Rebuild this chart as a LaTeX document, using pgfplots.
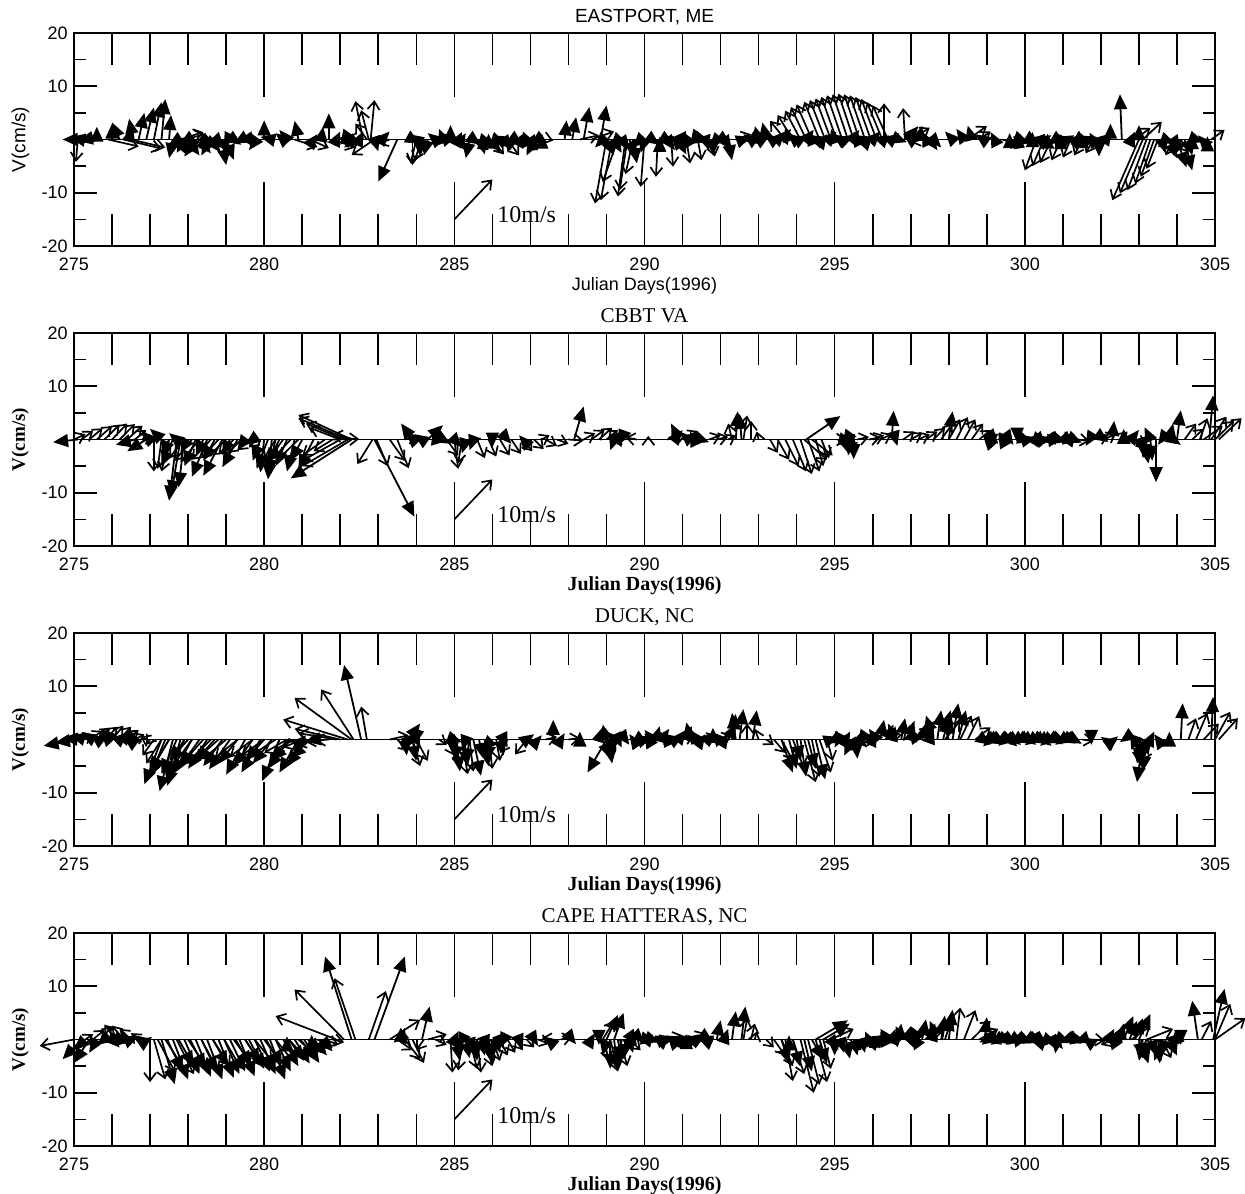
\documentclass[border=0pt]{standalone}
\usepackage{fontspec}
\setmainfont{Liberation Sans}
\newfontfamily\serifrm{Liberation Serif}
\usepackage{pgfplots}
\usepackage{pgfplotstable}
\pgfplotsset{compat=1.18}
\usetikzlibrary{arrows.meta}

\pgfplotstableread[row sep=\\]{
t u v\\
275.1 -0.4 0.0\\ 275.2 -0.3 0.4\\ 275.3 -0.2 -0.3\\ 275.6 0.0 2.4\\ 276.0 0.0 3.0\\ 276.2 -0.2 3.2\\
276.45 0.1 2.4\\ 276.55 -0.1 3.9\\ 276.7 0.15 5.0\\ 276.9 0.2 6.0\\ 277.1 0.2 7.0\\ 277.3 0.1 7.6\\
277.5 0.05 4.6\\ 277.6 -0.1 -3.5\\ 277.75 0.2 -2.8\\ 277.9 -0.2 -2.5\\ 278.0 0.3 -3.0\\ 278.15 -0.2 -2.2\\
278.3 0.3 -2.6\\ 278.45 -0.15 -1.8\\ 278.6 0.25 -2.4\\ 278.75 0.2 -1.5\\ 278.9 0.1 -4.8\\ 279.05 -0.1 -1.5\\
279.2 0.2 -1.0\\ 279.4 -0.2 -0.8\\ 279.6 0.15 -1.5\\ 279.8 -0.2 -2.0\\ 280.0 0.0 3.6\\ 280.2 -0.3 0.5\\
280.5 -0.2 1.2\\ 280.6 -0.2 1.8\\ 280.9 -0.1 3.5\\ 281.3 0.1 1.0\\ 281.5 0.05 2.4\\ 281.7 0.0 4.9\\
281.9 0.1 1.5\\ 282.1 -0.1 -1.0\\ 282.2 0.2 1.2\\ 282.4 -0.3 -1.5\\ 282.5 0.1 1.5\\ 282.9 0.1 -2.2\\
283.1 0.2 1.5\\ 283.5 -0.5 -7.9\\ 284.1 0.0 -3.2\\ 284.3 -0.1 -3.0\\ 284.5 -0.2 1.2\\ 284.7 -0.1 2.0\\
284.9 0.0 2.7\\ 285.1 0.1 1.4\\ 285.2 0.1 1.2\\ 285.4 -0.1 -3.5\\ 285.7 0.1 -2.8\\ 285.9 0.0 1.1\\
286.1 -0.2 -1.5\\ 286.3 0.2 -2.0\\ 286.5 -0.1 -2.5\\ 286.75 0.1 1.3\\ 286.9 -0.1 1.5\\ 287.1 -0.2 -3.0\\
287.3 0.0 1.1\\ 287.9 0.05 3.6\\ 288.1 0.1 4.2\\ 288.4 0.15 6.1\\ 288.85 0.15 6.4\\ 288.9 -0.2 -1.5\\
289.2 0.2 -2.5\\ 289.4 0.2 -2.0\\ 289.7 0.1 -4.5\\ 290.0 -0.1 -2.5\\ 290.4 0.0 0.5\\ 290.6 0.2 -2.0\\
290.8 -0.1 0.8\\ 291.0 0.1 -1.5\\ 291.3 -0.1 -1.0\\ 291.6 0.1 -2.0\\ 291.8 0.0 -3.0\\ 292.0 -0.2 -0.8\\
292.2 0.1 -3.9\\ 292.8 -0.2 1.0\\ 292.9 0.2 -1.0\\ 293.0 -0.1 2.5\\ 293.2 -0.1 3.2\\ 293.5 0.2 1.5\\
293.8 -0.1 2.4\\ 294.1 0.2 0.8\\ 294.4 -0.1 1.7\\ 294.7 0.1 1.0\\ 295.0 -0.1 2.0\\ 295.3 0.2 0.6\\
295.6 -0.1 1.5\\ 295.9 0.1 0.8\\ 296.5 0.2 1.2\\ 296.9 0.3 2.5\\ 297.2 0.1 2.6\\ 297.4 -0.1 1.5\\
297.6 0.2 -1.5\\ 298.1 -0.2 1.5\\ 298.4 -0.2 2.0\\ 298.6 -0.1 2.6\\ 298.9 -0.2 1.0\\ 299.2 -0.1 1.4\\
299.6 0.0 1.2\\ 299.8 0.0 1.4\\ 300.2 0.0 1.4\\ 300.4 0.1 -2.0\\ 300.6 0.0 1.1\\ 300.9 -0.1 -1.8\\
300.95 0.0 1.0\\ 301.3 0.1 -2.2\\ 301.5 0.0 1.2\\ 301.8 -0.1 1.3\\ 301.95 0.0 -3.2\\ 302.15 -0.3 0.3\\
302.25 0.0 3.0\\ 302.55 -0.05 8.5\\ 302.8 0.1 1.5\\ 303.0 0.0 2.7\\ 303.6 0.1 -2.6\\ 303.8 0.2 -3.5\\
304.0 0.25 -5.2\\ 304.2 0.2 -5.8\\ 304.3 0.1 -3.0\\ 304.4 0.0 1.0\\ 304.65 -0.1 0.8\\ 304.8 0.0 0.6\\
277.7 0.25 -1.2\\ 277.85 -0.3 -1.8\\ 278.05 0.2 -1.0\\ 278.2 -0.3 -3.2\\ 278.4 0.3 -1.2\\ 278.55 -0.2 -3.0\\
278.7 -0.3 -2.0\\ 278.85 0.3 -2.5\\ 279.0 0.2 -3.8\\ 283.9 0.2 -0.8\\ 284.0 -0.2 1.0\\ 284.6 0.2 0.5\\
284.8 -0.2 1.5\\ 285.5 0.2 -1.0\\ 285.8 -0.2 -1.8\\ 286.0 0.2 -2.5\\ 286.2 -0.2 0.8\\ 286.6 0.2 -1.0\\
287.0 0.2 -2.0\\ 287.2 -0.2 -1.0\\ 289.0 0.2 -3.0\\ 289.3 -0.2 -1.5\\ 289.6 0.2 -3.0\\ 289.9 -0.2 -1.5\\
290.2 0.2 -1.0\\ 290.5 -0.2 -1.0\\ 290.9 0.2 -2.8\\ 291.2 -0.2 -2.0\\ 291.5 0.2 -0.5\\ 291.9 -0.2 -1.5\\
292.1 0.2 -2.0\\ 292.6 0.2 0.5\\ 293.1 0.2 0.8\\ 293.35 -0.2 1.0\\ 293.65 0.2 2.0\\ 293.95 -0.2 1.2\\
294.25 0.2 1.8\\ 294.55 -0.2 0.8\\ 294.85 0.2 1.5\\ 295.15 -0.2 1.0\\ 295.45 0.2 1.8\\ 295.75 -0.2 0.8\\
296.0 0.2 1.5\\ 296.2 -0.2 0.5\\ 296.7 0.2 -0.5\\ 297.0 -0.2 1.0\\ 297.5 0.2 -2.0\\ 299.9 0.2 -0.5\\
300.1 -0.2 -1.0\\ 300.5 0.2 0.8\\ 300.8 -0.2 -1.0\\ 301.1 0.2 0.8\\ 301.4 -0.2 -1.0\\ 301.7 0.2 0.5\\
303.7 -0.2 -1.5\\ 303.9 0.2 -2.0\\ 304.1 -0.2 -3.0\\ 304.5 0.2 -0.5\\
}\EastF
\pgfplotstableread[row sep=\\]{
t u v\\
275.1 -0.05 -4.2\\ 275.45 0.1 -0.5\\ 275.9 0.8 -1.3\\ 276.3 1.0 -1.7\\ 276.5 0.9 -1.5\\ 277.8 0.6 1.4\\
277.9 0.55 1.0\\ 280.8 0.6 -1.4\\ 281.2 0.5 -1.6\\ 281.8 0.6 -1.5\\ 282.6 -0.2 7.2\\ 282.7 -0.3 3.0\\
282.75 -0.2 5.5\\ 282.8 0.1 7.4\\ 282.9 -0.6 -2.9\\ 283.3 -0.3 -0.8\\ 283.9 0.0 -4.8\\ 284.0 -0.15 -4.5\\
284.15 -0.2 -4.0\\ 285.6 0.3 -2.0\\ 286.0 0.3 -2.8\\ 286.4 0.3 -3.0\\ 286.8 0.4 -2.0\\ 287.5 0.1 -0.2\\
288.3 0.5 0.8\\ 288.6 0.6 1.5\\ 289.0 -0.3 -12.0\\ 289.15 -0.3 -11.4\\ 289.3 -0.4 -8.0\\ 289.5 -0.2 -10.7\\
289.55 -0.2 -9.5\\ 289.7 -0.2 -6.5\\ 290.0 -0.1 -8.9\\ 290.35 -0.05 -7.0\\ 290.7 0.05 -5.1\\ 291.1 0.1 -4.5\\
291.4 0.1 -3.9\\ 291.75 0.1 -3.2\\ 292.4 0.4 1.0\\
293.7 -0.4 3.5\\ 293.9 -0.4 4.6\\ 294.1 -0.4 5.4\\ 294.25 -0.4 6.1\\ 294.4 -0.4 6.6\\ 294.6 -0.4 7.1\\
294.75 -0.4 7.4\\ 294.9 -0.4 7.7\\ 295.05 -0.4 8.0\\ 295.2 -0.4 8.3\\ 295.35 -0.4 8.5\\ 295.5 -0.4 8.6\\
295.65 -0.4 8.5\\ 295.8 -0.4 8.3\\ 295.95 -0.4 8.0\\ 296.1 -0.4 7.6\\ 296.25 -0.4 7.0\\ 296.4 -0.4 6.4\\
296.3 0.0 6.8\\ 296.85 -0.05 5.9\\ 297.0 0.5 2.2\\ 297.3 -0.3 -0.5\\ 298.5 0.5 2.5\\ 298.8 0.3 1.5\\
299.4 0.5 -1.0\\ 299.6 0.4 -1.5\\ 300.3 -0.3 -5.8\\ 300.5 -0.3 -5.0\\ 300.7 -0.3 -4.4\\ 300.95 -0.25 -3.9\\
301.2 -0.2 -3.4\\ 301.5 -0.2 -3.0\\ 301.8 -0.2 -2.6\\ 302.9 0.4 2.2\\ 303.1 0.5 3.3\\ 303.0 -0.7 -11.4\\
303.1 -0.6 -10.1\\ 303.2 -0.5 -9.5\\ 303.3 -0.4 -8.3\\ 303.4 -0.35 -7.0\\ 303.5 -0.3 -5.5\\ 303.7 0.3 -2.0\\
303.9 -0.2 -3.0\\ 304.1 0.2 -2.5\\ 304.9 0.35 1.8\\
}\EastO

\pgfplotstableread[row sep=\\]{
t u v\\
275.1 -0.65 -0.5\\ 276.9 -0.5 -2.2\\ 277.0 -0.2 1.5\\ 277.7 -0.2 1.2\\ 277.7 -0.2 -11.5\\ 277.8 -0.25 -10.5\\
277.9 -0.15 -9.0\\ 278.2 -0.3 -5.0\\ 278.5 -0.4 -7.0\\ 278.9 -0.5 -6.8\\ 279.3 -0.4 -5.2\\ 279.7 -0.2 -1.0\\
280.0 -0.1 -6.2\\ 280.1 -0.3 -5.5\\ 280.2 -0.1 -7.5\\ 280.4 -0.3 -4.5\\ 281.3 -0.4 -5.6\\ 282.3 -1.6 -7.3\\
282.9 1.05 -14.5\\ 283.9 -0.3 3.0\\ 284.0 0.2 0.5\\ 284.15 -0.2 1.0\\ 284.3 0.4 2.7\\ 284.5 0.3 -0.3\\
284.7 0.2 -0.8\\ 285.0 0.2 -1.5\\ 285.3 -0.1 -2.6\\ 285.5 -0.1 -2.0\\ 286.0 0.0 -1.5\\ 286.4 0.1 -0.8\\
286.8 -0.1 0.8\\ 288.15 0.25 6.2\\ 289.2 -0.1 -2.0\\ 289.3 0.1 -1.5\\ 289.4 -0.05 -1.0\\ 290.8 0.2 1.8\\
290.9 -0.2 3.0\\ 291.1 0.3 1.0\\ 291.3 -0.1 1.5\\ 291.5 0.2 -0.5\\ 292.4 0.05 5.3\\ 292.55 -0.05 4.8\\
294.25 0.9 4.4\\ 295.2 0.3 -0.5\\ 295.3 -0.1 -1.0\\ 295.4 0.1 -2.0\\ 295.5 0.0 -3.7\\ 296.5 0.05 5.4\\
296.6 0.05 -1.2\\ 298.0 0.1 5.3\\ 299.0 -0.1 0.8\\ 299.2 0.1 -0.8\\ 299.4 -0.1 1.2\\ 299.6 0.1 -1.0\\
299.8 0.0 -0.6\\ 300.0 0.2 -0.5\\ 300.2 -0.2 0.3\\ 300.4 0.2 -0.4\\ 300.6 -0.2 -0.3\\ 300.8 0.2 0.2\\
301.0 -0.2 -0.5\\ 301.2 0.2 -0.3\\ 301.7 -0.1 -1.2\\ 302.1 0.1 -0.5\\ 302.3 0.05 3.5\\ 302.6 0.0 2.0\\
302.8 0.2 1.8\\ 303.0 0.1 -2.5\\ 303.2 -0.1 -3.5\\ 303.3 0.05 -4.0\\ 303.3 -0.15 2.3\\ 303.45 0.0 -8.0\\
303.6 -0.1 -1.0\\ 303.8 0.1 3.0\\ 303.9 0.2 -1.0\\ 304.0 0.1 5.5\\ 304.85 0.1 8.3\\
277.5 -0.2 -3.0\\ 277.6 -0.3 -5.0\\ 278.0 -0.2 -2.5\\ 278.4 -0.2 -3.0\\ 278.7 -0.3 -4.0\\ 279.1 -0.2 -3.0\\
279.5 -0.2 -2.0\\ 279.9 -0.2 -4.0\\ 280.3 -0.2 -6.5\\ 280.6 -0.3 -5.0\\ 280.8 -0.2 -6.0\\ 281.0 -0.3 -4.0\\
276.6 -0.5 -1.0\\ 277.3 -0.3 2.0\\ 300.1 0.2 0.3\\ 300.3 -0.2 -0.5\\ 300.5 0.2 0.4\\ 300.7 -0.2 -0.6\\
300.9 0.2 -0.4\\ 301.1 -0.2 0.3\\ 301.3 0.2 -0.6\\ 295.25 0.1 -2.5\\ 295.45 -0.1 -3.0\\ 303.15 0.1 -4.5\\
}\CbbtF
\pgfplotstableread[row sep=\\]{
t u v\\
275.0 0.3 1.0\\ 275.2 0.3 1.6\\ 275.4 0.35 2.1\\ 275.6 0.4 2.5\\ 275.8 0.4 2.8\\ 276.0 0.4 3.0\\
276.2 0.4 2.9\\ 276.4 0.4 2.6\\ 276.6 0.3 1.8\\ 276.8 0.2 1.0\\ 277.1 0.0 -6.0\\ 277.3 -0.1 -5.5\\
277.5 -0.2 -6.0\\ 277.9 -0.4 -3.5\\ 278.1 -0.45 -4.0\\ 278.3 -0.5 -4.2\\ 278.6 -0.5 -3.8\\ 278.8 -0.45 -3.5\\
279.0 -0.45 -3.0\\ 279.2 -0.4 -2.8\\ 279.4 -0.35 -2.5\\ 279.6 -0.3 -2.0\\ 279.8 -0.2 -1.5\\ 280.3 -0.3 -3.5\\
280.5 -0.4 -4.0\\ 280.7 -0.4 -3.0\\ 280.9 -0.5 -3.5\\ 281.6 -0.6 -3.0\\ 281.8 -0.5 -2.2\\ 282.0 -1.0 -4.0\\
282.2 -1.2 -5.0\\ 282.3 -1.4 4.6\\ 282.2 -1.3 4.0\\ 282.1 -1.0 3.0\\ 282.0 -0.8 2.2\\ 282.4 -0.6 1.0\\
281.8 0.7 0.1\\ 282.85 -0.4 -4.6\\ 282.95 0.3 -5.0\\ 283.3 0.4 -4.0\\ 283.5 0.3 -5.4\\ 283.7 0.3 0.8\\
284.8 0.3 -3.0\\ 285.0 0.1 -5.5\\ 285.2 -0.1 -4.5\\ 285.6 0.2 -3.5\\ 285.9 0.2 -3.2\\ 286.2 0.25 -3.0\\
286.5 0.25 -2.7\\ 286.8 0.25 -2.2\\ 287.1 0.25 -1.8\\ 287.3 0.2 0.8\\ 287.4 0.3 -1.2\\ 287.7 0.3 -0.8\\
288.0 0.4 -0.2\\ 288.4 0.3 1.2\\ 288.6 0.35 1.8\\ 288.8 0.35 2.2\\ 289.0 0.3 1.8\\ 289.2 0.2 1.0\\
289.5 -0.3 0.5\\ 289.8 -0.3 0.4\\ 290.1 0.0 0.7\\ 290.6 0.5 1.0\\ 291.0 0.4 1.6\\ 291.7 0.3 0.8\\
291.9 0.3 0.5\\ 292.2 0.2 0.8\\ 292.3 -0.1 3.0\\ 292.6 0.1 4.5\\ 292.8 0.0 3.5\\ 293.0 -0.05 1.5\\
293.3 0.2 -2.5\\ 293.5 0.3 -3.8\\ 293.7 0.35 -5.0\\ 293.9 0.35 -6.0\\ 294.1 0.3 -6.5\\ 294.2 0.6 -3.8\\
294.3 0.3 -6.0\\ 294.4 0.55 -3.0\\ 294.5 0.2 -5.0\\ 294.65 0.2 -3.5\\ 294.8 0.5 0.0\\ 295.6 0.3 0.5\\
295.9 0.3 0.4\\ 296.0 0.3 0.8\\ 296.2 0.3 1.0\\ 296.8 0.3 1.5\\ 297.0 0.3 1.2\\ 297.2 0.3 1.0\\
297.4 0.3 1.5\\ 297.6 0.3 2.2\\ 297.8 0.3 3.0\\ 298.0 0.3 3.8\\ 298.2 0.3 4.2\\ 298.4 0.3 3.8\\
298.6 0.3 3.0\\ 298.8 0.3 1.8\\ 299.0 0.3 1.0\\ 299.3 0.3 0.5\\ 301.4 0.3 -0.3\\ 301.9 0.3 0.8\\
302.1 0.3 1.2\\ 302.5 0.2 1.5\\ 302.9 0.3 -1.0\\ 304.2 0.3 3.0\\ 304.4 0.3 2.0\\ 304.6 0.2 4.0\\
304.7 0.5 2.5\\ 304.9 0.4 4.3\\ 305.0 0.5 3.5\\ 305.1 0.6 4.0\\
}\CbbtO

\pgfplotstableread[row sep=\\]{
t u v\\
275.05 -0.85 -1.2\\ 275.1 -0.6 -0.6\\ 275.2 -0.5 0.3\\ 275.9 -0.2 1.5\\ 276.2 0.2 1.3\\ 276.4 -0.1 0.5\\
276.6 0.2 -0.5\\ 277.3 -0.45 -8.4\\ 277.6 -0.35 -9.7\\ 277.7 -0.4 -6.5\\ 277.8 -0.35 -8.7\\ 278.0 -0.5 -4.0\\
278.3 -0.5 -5.0\\ 279.1 -0.55 -5.6\\ 279.5 -0.5 -6.6\\ 279.9 -0.5 -6.2\\ 280.2 -0.5 -4.5\\ 280.4 -0.45 -7.8\\
280.9 -0.5 -6.2\\ 281.0 0.1 0.8\\ 281.2 -0.5 -3.5\\ 281.4 -0.3 -0.4\\ 282.55 -0.45 14.0\\ 283.7 0.05 -3.0\\
283.8 0.3 3.0\\ 284.0 0.1 -1.5\\ 285.0 0.2 -0.5\\ 285.05 0.1 -6.0\\ 285.3 -0.1 -2.0\\ 285.5 0.2 -6.8\\
285.8 0.1 -5.0\\ 286.0 -0.3 -2.0\\ 286.2 0.1 -3.0\\ 286.9 0.2 1.0\\ 287.2 0.1 0.8\\ 287.6 0.0 3.7\\
287.8 0.1 1.2\\ 288.3 0.0 1.5\\ 288.8 0.1 2.3\\ 289.0 -0.1 2.8\\ 289.0 -0.5 -6.2\\ 289.1 0.15 -2.5\\
289.2 -0.2 1.5\\ 289.3 0.1 -1.5\\ 289.5 0.1 -1.0\\ 289.7 -0.1 1.0\\ 289.9 0.2 -0.8\\ 290.1 -0.1 1.2\\
290.3 0.1 2.5\\ 290.6 -0.1 1.5\\ 290.9 0.2 1.8\\ 291.2 -0.1 3.2\\ 291.5 0.1 1.0\\ 291.8 0.0 2.2\\
292.1 0.1 1.2\\ 292.3 0.1 4.8\\ 292.5 0.1 5.7\\ 292.85 0.1 5.5\\ 293.6 0.3 -6.2\\ 294.0 0.1 -4.0\\
294.9 0.2 0.5\\ 295.1 -0.1 -1.5\\ 295.3 0.1 1.5\\ 295.4 0.2 -2.5\\ 295.55 0.05 -3.6\\ 295.7 -0.1 -1.0\\
296.0 0.1 1.5\\ 296.2 0.1 3.7\\ 296.5 0.1 2.5\\ 296.75 0.1 4.0\\ 297.0 0.1 2.5\\ 297.3 0.1 3.1\\
297.5 0.1 2.0\\ 297.7 0.1 5.5\\ 297.95 0.1 4.0\\ 298.1 0.15 6.8\\ 298.9 0.2 -1.0\\ 299.1 -0.2 -1.3\\
299.3 0.2 -0.8\\ 299.5 -0.2 -1.2\\ 299.7 0.2 -1.0\\ 299.9 -0.2 -0.6\\ 300.1 0.2 -1.0\\ 300.3 -0.2 -0.5\\
300.5 0.2 -1.2\\ 300.7 -0.2 -0.8\\ 300.9 0.2 -0.6\\ 301.1 -0.2 -0.5\\ 301.3 0.2 -0.8\\ 301.75 0.0 -1.0\\
302.1 -0.1 0.5\\ 302.35 0.1 0.6\\ 302.6 -0.1 -0.5\\ 302.9 -0.1 -2.0\\ 303.0 0.1 -3.5\\ 303.1 -0.15 -8.0\\
303.2 -0.1 -6.0\\ 303.3 0.1 1.5\\ 303.5 -0.1 1.0\\ 303.8 0.0 1.5\\ 304.1 0.05 6.8\\ 304.9 0.05 8.0\\
277.4 -0.4 -7.0\\ 277.5 -0.5 -6.0\\ 277.9 -0.45 -7.5\\ 278.1 -0.5 -6.5\\ 278.5 -0.5 -5.5\\ 278.7 -0.5 -4.0\\
278.9 -0.5 -5.0\\ 279.3 -0.5 -4.5\\ 279.7 -0.5 -5.0\\ 280.0 -0.5 -4.0\\ 280.6 -0.5 -5.5\\ 280.7 -0.5 -4.0\\
281.1 -0.5 -5.0\\ 275.3 -0.4 0.8\\ 275.5 -0.3 1.2\\ 275.7 0.2 0.8\\ 276.0 -0.3 2.0\\ 276.3 0.2 1.8\\
285.1 -0.1 -4.0\\ 285.25 0.1 -5.0\\ 285.4 -0.1 -4.5\\ 285.65 0.1 -3.5\\ 285.95 -0.1 -4.0\\ 286.3 0.1 -1.5\\
284.9 0.2 -2.0\\ 283.8 -0.2 -2.0\\ 283.9 0.1 -4.0\\ 288.9 0.2 -3.5\\ 289.05 0.1 -4.5\\ 289.15 -0.1 -3.0\\
299.0 -0.2 -0.5\\ 299.2 0.2 -1.0\\ 299.4 -0.2 -0.8\\ 299.6 0.2 -1.3\\ 299.8 -0.2 -1.0\\ 300.0 0.2 -0.8\\
300.2 -0.2 -1.1\\ 300.4 0.2 -0.7\\ 300.6 -0.2 -1.2\\ 300.8 0.2 -0.9\\ 301.0 -0.2 -1.0\\ 301.2 0.2 -0.6\\
302.95 0.1 -5.0\\ 303.05 -0.1 -4.5\\ 303.15 0.1 -3.0\\ 296.1 -0.2 2.0\\ 296.35 0.2 2.8\\ 296.6 -0.2 3.0\\
296.9 0.2 3.5\\ 297.15 -0.2 2.0\\ 297.4 0.2 3.5\\ 297.6 -0.2 4.5\\ 297.85 0.2 5.5\\ 298.0 -0.2 4.5\\
298.25 0.2 5.5\\ 290.0 0.2 0.5\\ 290.2 -0.2 1.8\\ 290.45 0.2 2.0\\ 290.75 -0.2 1.0\\ 291.05 0.2 2.5\\
291.35 -0.2 2.0\\ 291.65 0.2 1.5\\ 291.95 -0.2 1.5\\ 292.2 0.2 3.0\\ 292.4 -0.1 5.0\\ 293.8 0.2 -5.5\\
294.1 0.15 -7.0\\ 294.3 0.2 -5.5\\ 294.5 0.25 -7.5\\ 295.0 -0.2 -0.8\\ 295.2 0.2 -2.0\\ 295.45 -0.2 -3.0\\
295.65 0.2 -1.5\\
}\DuckF
\pgfplotstableread[row sep=\\]{
t u v\\
275.2 0.3 1.0\\ 275.4 0.35 1.6\\ 275.6 0.35 2.2\\ 275.8 0.35 2.4\\ 276.0 0.3 2.6\\ 276.2 0.3 2.4\\
276.4 0.3 1.8\\ 276.6 0.25 1.0\\ 276.9 -0.15 0.5\\ 277.0 -0.1 -1.0\\ 277.1 -0.3 -3.0\\ 277.3 -0.4 -4.5\\
277.5 -0.45 -5.5\\ 277.9 -0.5 -6.0\\ 278.1 -0.55 -5.5\\ 278.4 -0.6 -4.8\\ 278.6 -0.6 -4.2\\ 278.8 -0.6 -3.8\\
279.0 -0.6 -3.6\\ 279.3 -0.6 -3.5\\ 279.7 -0.6 -3.2\\ 280.0 -0.6 -3.0\\ 280.3 -0.6 -2.8\\ 280.6 -0.6 -2.5\\
280.8 -0.55 -2.0\\ 281.0 -0.5 -1.5\\ 281.3 -0.45 -1.0\\ 281.5 -0.4 -0.5\\ 281.7 -0.35 -0.2\\ 281.9 -1.0 1.2\\
282.0 -1.2 2.0\\ 282.2 -1.7 3.75\\ 282.3 -1.5 7.8\\ 282.35 -0.85 9.4\\ 282.7 -0.15 6.2\\ 283.3 0.5 0.8\\
283.5 0.3 -2.0\\ 283.6 0.6 1.5\\ 283.9 0.2 -5.0\\ 284.0 0.3 -4.0\\ 284.6 0.2 -1.0\\ 284.8 0.2 -3.0\\
285.0 0.15 -5.0\\ 285.2 0.15 -6.5\\ 285.4 0.1 -6.0\\ 285.9 0.1 -5.5\\ 286.1 0.1 -4.0\\ 286.4 -0.2 -2.5\\
286.9 -0.3 -2.8\\ 287.4 0.3 0.5\\ 288.0 0.3 0.3\\ 289.2 -0.2 -3.0\\ 290.4 0.3 0.6\\ 291.0 0.3 0.8\\
291.6 0.3 0.7\\ 292.0 0.3 1.0\\ 292.7 0.0 3.0\\ 293.0 -0.1 2.0\\ 293.2 0.2 -1.0\\ 293.4 0.3 -2.5\\
293.6 0.3 -4.0\\ 293.9 0.3 -5.5\\ 294.2 0.3 -8.0\\ 294.4 0.2 -7.0\\ 294.6 0.3 -6.2\\ 294.8 0.15 -4.0\\
295.2 0.4 -2.0\\ 295.8 0.3 -0.5\\ 296.6 0.3 1.8\\ 297.2 0.3 2.5\\ 297.9 0.4 3.5\\ 298.3 0.3 4.5\\
298.5 0.3 4.4\\ 298.7 0.4 2.3\\ 301.5 0.3 -0.3\\ 303.3 -0.2 -4.0\\ 304.3 0.2 4.0\\ 304.5 0.3 5.0\\
304.7 0.4 3.0\\ 305.0 0.4 5.2\\ 305.1 0.5 4.0\\
}\DuckO

\pgfplotstableread[row sep=\\]{
t u v\\
275.2 -0.5 -3.7\\ 275.4 -0.4 -4.4\\ 275.6 -0.2 -2.5\\ 276.0 0.2 -1.5\\ 276.3 -0.2 -1.2\\ 276.5 0.2 0.6\\
276.75 -0.15 0.8\\ 276.95 0.1 0.5\\ 277.3 0.35 -8.4\\ 277.6 0.4 -7.5\\ 277.9 0.4 -6.5\\ 278.2 0.4 -7.0\\
278.5 0.4 -7.5\\ 278.8 0.4 -7.2\\ 279.1 0.4 -6.0\\ 279.35 0.4 -6.9\\ 279.6 0.4 -5.5\\ 279.9 0.4 -6.5\\
280.15 0.4 -7.5\\ 280.5 0.4 -5.0\\ 280.6 0.0 0.6\\ 280.8 0.4 -4.5\\ 281.05 0.4 -4.4\\ 281.25 0.0 0.9\\
281.3 0.35 -3.0\\ 281.5 0.3 -2.2\\ 282.3 -0.7 15.6\\ 282.9 0.8 15.6\\ 283.5 -0.1 -0.6\\ 283.6 0.1 2.2\\
284.15 0.2 6.2\\ 285.0 0.1 1.5\\ 285.1 0.1 -2.5\\ 285.3 0.1 -3.5\\ 285.5 0.1 -4.0\\ 285.7 0.1 -3.0\\
285.9 0.1 -4.5\\ 286.1 0.1 -2.5\\ 286.3 -0.1 -1.5\\ 286.7 0.1 -1.8\\ 287.1 0.1 -1.2\\ 287.45 -0.1 0.6\\
288.1 0.1 -0.9\\ 288.6 0.1 1.2\\ 288.8 0.0 -1.0\\ 289.0 0.3 4.6\\ 289.1 0.0 -5.5\\ 289.2 0.25 5.0\\
289.3 0.1 -4.0\\ 289.5 -0.05 -3.7\\ 289.7 0.1 -1.0\\ 289.9 0.1 -0.7\\ 290.1 0.2 -0.3\\ 290.3 -0.1 0.3\\
290.5 0.2 0.5\\ 290.7 -0.1 0.8\\ 290.9 0.2 0.6\\ 291.1 0.0 1.0\\ 291.3 0.2 0.5\\ 291.5 -0.1 0.3\\
291.7 0.1 -0.5\\ 291.9 0.1 3.6\\ 292.1 0.1 2.0\\ 292.3 0.1 5.3\\ 292.55 0.1 6.2\\ 293.8 0.0 0.8\\
293.9 0.2 -5.1\\ 294.4 0.3 -3.8\\ 294.5 0.85 3.6\\ 294.7 0.7 3.0\\ 295.0 0.0 -3.0\\ 295.3 0.1 -3.6\\
295.7 0.1 -2.5\\ 295.9 -0.1 1.5\\ 296.1 0.1 0.8\\ 296.3 -0.1 1.5\\ 296.5 0.1 2.0\\ 296.7 0.05 3.0\\
296.9 0.1 2.5\\ 297.1 -0.1 1.0\\ 297.3 0.1 3.8\\ 297.55 0.1 2.5\\ 297.8 0.1 4.5\\ 298.0 0.1 5.6\\
298.95 0.05 4.2\\ 299.1 0.2 -0.3\\ 299.3 -0.2 -1.0\\ 299.5 0.2 -0.5\\ 299.7 -0.2 -1.0\\ 299.9 0.2 0.3\\
300.1 -0.2 -0.8\\ 300.3 0.2 -0.5\\ 300.5 0.1 0.8\\ 300.7 0.15 -2.0\\ 300.85 -0.05 -2.6\\ 301.0 0.2 -0.5\\
301.2 -0.2 -0.7\\ 301.4 0.2 -0.3\\ 301.6 -0.1 0.5\\ 302.2 0.15 2.0\\ 302.4 0.2 2.5\\ 302.6 0.25 4.4\\
303.0 0.3 4.8\\ 303.0 0.1 -3.5\\ 303.1 -0.1 -4.0\\ 303.3 0.15 -3.0\\ 303.5 0.05 -4.5\\ 303.7 -0.1 -3.0\\
303.9 0.1 -2.0\\ 304.1 0.0 -1.0\\ 304.55 -0.15 7.3\\ 304.95 0.3 9.5\\
277.45 0.4 -6.0\\ 277.75 0.4 -5.0\\ 278.05 0.4 -5.5\\ 278.35 0.4 -6.0\\ 278.65 0.4 -5.0\\ 278.95 0.4 -6.5\\
279.25 0.4 -5.0\\ 279.5 0.4 -4.5\\ 279.75 0.4 -6.0\\ 280.05 0.4 -5.0\\ 280.3 0.4 -6.0\\ 280.65 0.4 -4.0\\
280.95 0.4 -3.5\\ 281.15 0.35 -2.5\\ 275.3 -0.3 -2.0\\ 275.8 -0.2 -1.0\\ 276.2 0.2 -0.8\\ 285.2 -0.1 -1.5\\
285.4 0.1 -2.5\\ 285.6 -0.1 -3.0\\ 285.8 0.1 -2.0\\ 286.0 -0.1 -3.5\\ 286.2 0.1 -1.8\\ 285.05 0.1 -4.0\\
289.0 -0.1 -3.0\\ 289.2 0.1 -6.0\\ 289.4 -0.1 -5.0\\ 289.6 0.1 -2.5\\ 293.6 0.2 -4.5\\ 294.2 0.2 -6.0\\
294.6 0.2 -4.5\\ 294.9 0.2 -2.0\\ 295.15 0.1 -2.5\\ 295.5 0.1 -3.0\\ 299.0 -0.2 -0.5\\ 299.2 0.2 -1.0\\
299.4 -0.2 -0.3\\ 299.6 0.2 -0.8\\ 299.8 -0.2 -0.5\\ 300.0 0.2 -0.6\\ 300.2 -0.2 -0.3\\ 300.4 0.2 -1.0\\
300.6 -0.2 -1.5\\ 300.8 0.2 -1.8\\ 301.1 -0.2 -0.5\\ 301.3 0.2 -0.8\\ 301.5 -0.2 -0.5\\ 303.05 0.2 -4.5\\
303.2 -0.2 -3.5\\ 303.4 0.2 -4.0\\ 303.6 -0.2 -4.0\\ 303.8 0.2 -3.0\\ 304.0 -0.2 -1.5\\ 302.3 -0.1 1.0\\
302.5 0.1 3.0\\ 302.75 0.2 3.5\\ 302.9 0.2 4.0\\ 296.0 -0.2 0.5\\ 296.2 0.2 1.0\\ 296.4 -0.2 2.0\\
296.6 0.2 1.5\\ 296.8 -0.2 2.5\\ 297.0 0.2 1.5\\ 297.2 -0.2 2.5\\ 297.45 0.2 3.0\\ 297.7 -0.2 3.5\\
297.9 0.2 4.5\\ 290.0 -0.2 0.3\\ 290.2 0.2 -0.5\\ 290.4 -0.2 0.5\\ 290.6 0.2 0.3\\ 290.8 -0.2 0.5\\
291.0 0.2 0.8\\ 291.2 -0.2 0.3\\ 291.4 0.2 0.8\\ 291.6 -0.2 0.5\\
}\HatF
\pgfplotstableread[row sep=\\]{
t u v\\
275.0 -0.9 -1.2\\ 275.3 0.2 1.0\\ 275.5 0.3 1.8\\ 275.7 0.3 2.5\\ 276.1 -0.3 2.8\\ 276.3 -0.3 2.6\\
276.5 -0.3 2.0\\ 276.7 -0.2 1.2\\ 277.0 0.0 -8.0\\ 277.1 0.3 -7.5\\ 277.2 0.45 -6.0\\ 277.4 0.45 -5.0\\
277.7 0.45 -6.5\\ 278.0 0.5 -5.5\\ 278.35 0.45 -6.0\\ 278.65 0.45 -5.0\\ 278.95 0.45 -5.5\\ 279.2 0.45 -4.5\\
279.5 0.45 -5.0\\ 279.75 0.45 -4.0\\ 280.0 0.45 -4.5\\ 280.3 0.45 -4.0\\ 280.65 0.45 -3.5\\ 280.9 0.45 -3.0\\
281.2 0.4 -2.5\\ 281.4 0.4 -1.5\\ 281.6 0.35 -1.0\\ 281.8 0.3 -0.5\\ 281.9 -1.6 4.4\\ 282.1 -1.3 9.4\\
282.4 -0.55 11.5\\ 282.75 0.45 9.1\\ 283.3 0.8 3.7\\ 283.5 0.4 -2.0\\ 283.7 0.4 -3.7\\ 283.9 0.3 -4.4\\
284.2 -0.2 -2.0\\ 284.3 0.5 1.0\\ 284.5 0.3 -1.0\\ 284.9 0.05 -6.2\\ 285.2 -0.1 -5.8\\ 285.4 0.2 -5.5\\
285.6 0.1 -6.2\\ 285.8 0.2 -5.0\\ 286.0 0.2 -4.0\\ 286.2 0.2 -3.0\\ 286.4 0.2 -2.5\\ 286.6 0.2 -2.0\\
286.9 0.2 -1.5\\ 287.2 0.3 -0.8\\ 287.6 -0.3 0.3\\ 287.8 0.3 0.5\\ 288.9 0.3 3.5\\ 288.95 0.1 -4.0\\
289.1 0.2 -6.0\\ 289.35 0.2 -5.0\\ 289.6 0.3 -2.0\\ 290.6 0.4 0.8\\ 291.2 0.4 1.2\\ 292.6 0.1 4.0\\
292.8 0.1 3.0\\ 292.9 0.05 1.5\\ 293.2 0.2 -1.5\\ 293.4 0.3 -3.0\\ 293.6 0.3 -5.0\\ 293.7 0.2 -7.8\\
293.9 0.3 -6.5\\ 294.1 0.35 -10.0\\ 294.3 0.3 -8.5\\ 294.5 0.3 -8.0\\ 294.7 0.2 -5.5\\ 294.9 0.6 2.0\\
295.4 0.3 -2.0\\ 295.9 0.3 -1.5\\ 297.0 0.3 1.5\\ 297.6 0.3 2.0\\ 298.2 0.1 6.0\\ 298.4 0.3 5.5\\
298.6 0.5 3.5\\ 298.8 0.5 2.0\\ 301.8 0.3 -0.2\\ 302.3 -0.3 -1.0\\ 302.8 0.5 2.5\\ 303.2 0.7 2.0\\
303.2 0.3 -2.0\\ 303.6 0.25 -3.5\\ 304.65 0.25 3.5\\ 305.0 0.4 6.7\\ 305.0 0.8 4.0\\
}\HatO

\pgfplotstableread[row sep=\\]{
t y u v\\
285 -15 1 7.5\\
}\RefArrow

\pgfplotsset{
 base/.style={width=570.5pt,height=106.5pt,scale only axis,anchor=south west,
   xmin=275,xmax=305,ymin=-20,ymax=20,clip=false,
   axis line style={line width=0.9pt},tick style={line width=0.8pt,black},tick align=inside},
 vecF/.style={quiver={u=\thisrow{u},v=\thisrow{v}},-{Triangle[length=7.5pt,width=6.5pt]},line width=0.9pt,black},
 vecO/.style={quiver={u=\thisrow{u},v=\thisrow{v}},-{Straight Barb[length=4pt,width=6pt]},line width=0.85pt,black},
 sanslab/.style={title style={font=\fontsize{9.5}{11}\selectfont},
   xlabel style={font=\fontsize{9}{11}\selectfont},
   ylabel style={font=\fontsize{9.5}{11}\selectfont}},
 seriflab/.style={title style={font=\serifrm\fontsize{10.5}{12}\selectfont},
   xlabel style={font=\serifrm\bfseries\fontsize{10}{12}\selectfont},
   ylabel style={font=\serifrm\bfseries\fontsize{9.5}{11}\selectfont}},
}

\newcommand{\panel}[5]{%
\begin{axis}[base,at={(37pt,#1)},
  xtick={275,280,...,305},xticklabels={275,280,285,290,295,300,305},minor x tick num=4,ytick=\empty,
  major tick length=32pt,minor tick length=16pt,
  xticklabel style={anchor=base,yshift=-12pt,font=\fontsize{9}{11}\selectfont},
  every axis title/.style={at={(axis description cs:0.5,1)},anchor=base,yshift=5.5pt},
  title={#2},
  xlabel={Julian Days(1996)},xlabel style={at={(axis description cs:0.5,0)},anchor=base,yshift=-22pt},
  ylabel={V(cm/s)},ylabel style={at={(axis description cs:-0.047,0.5)},anchor=center},
  #3]
  \addplot[black,line width=0.9pt] coordinates {(275,0) (305,0)};
  \addplot[vecO] table[x=t,y expr=0]{#5};
  \addplot[vecF] table[x=t,y expr=0]{#4};
  \addplot[vecO] table[x=t,y=y]{\RefArrow};
  \node[anchor=west,inner sep=0pt,font=\serifrm\fontsize{12}{14}\selectfont] at (axis cs:286.12,-14.2) {10m/s};
\end{axis}
\begin{axis}[base,at={(37pt,#1)},xtick=\empty,ytick={-20,-10,10,20},yticklabels={-20,-10,10,20},
  minor ytick={-15,-5,5,15},major tick length=11.5pt,minor tick length=6pt,
  yticklabel style={anchor=east,inner sep=0pt,xshift=-3pt,font=\fontsize{9}{11}\selectfont}]
\end{axis}}

\begin{document}
\begin{tikzpicture}
\useasboundingbox (0,0) rectangle (622.5pt,-596.5pt);
\panel{-123pt}{EASTPORT, ME}{sanslab}{\EastF}{\EastO}
\panel{-273pt}{CBBT VA}{seriflab}{\CbbtF}{\CbbtO}
\panel{-423pt}{DUCK, NC}{seriflab}{\DuckF}{\DuckO}
\panel{-573pt}{CAPE HATTERAS, NC}{seriflab}{\HatF}{\HatO}
\end{tikzpicture}
\end{document}
